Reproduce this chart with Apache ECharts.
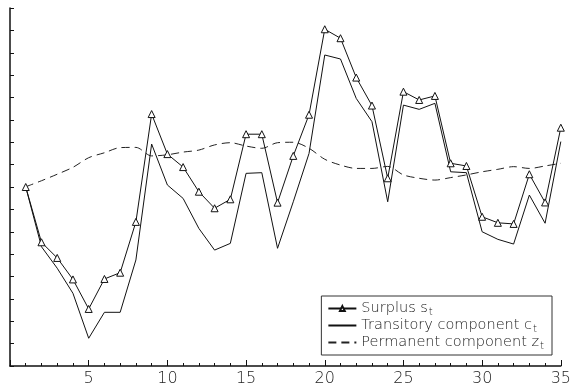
<!DOCTYPE html>
<html>
<head>
<meta charset="utf-8">
<script src="https://cdn.jsdelivr.net/npm/echarts@6/dist/echarts.min.js"></script>
<style>
  html, body { margin: 0; padding: 0; background: #fff; }
  #main { width: 574px; height: 390px; }
</style>
</head>
<body>
<div id="main"></div>
<script>
// periods t = 1..35
var periods = [1, 2, 3, 4, 5, 6, 7, 8, 9, 10, 11, 12, 13, 14, 15, 16, 17, 18,
    19, 20, 21, 22, 23, 24, 25, 26, 27, 28, 29, 30, 31, 32, 33, 34, 35];

// surplus s_t
var surplus = [8.0, 5.53, 4.83, 3.87, 2.55, 3.89, 4.17, 6.44, 11.26, 9.47, 8.89, 7.79,
    7.05, 7.45, 10.36, 10.36, 7.3, 9.39, 11.23, 15.05, 14.65, 12.89, 11.64, 8.39,
    12.26, 11.89, 12.07, 9.06, 8.94, 6.67, 6.4, 6.35, 8.57, 7.31, 10.65];

// transitory component c_t
var transitory = [8.0, 5.33, 4.37, 3.25, 1.24, 2.4, 2.4, 4.74, 9.92, 8.09, 7.49, 6.15,
    5.18, 5.48, 8.61, 8.64, 5.26, 7.34, 9.5, 13.9, 13.72, 11.96, 10.92, 7.34,
    11.66, 11.47, 11.74, 8.68, 8.64, 6.0, 5.66, 5.45, 7.64, 6.38, 10.03];

// permanent component z_t
var permanent = [8.01, 8.28, 8.57, 8.88, 9.31, 9.53, 9.76, 9.77, 9.39, 9.44, 9.56, 9.65,
    9.88, 9.98, 9.83, 9.73, 9.98, 10.0, 9.73, 9.24, 8.98, 8.83, 8.83, 8.92,
    8.54, 8.39, 8.31, 8.42, 8.54, 8.68, 8.79, 8.91, 8.83, 8.94, 9.06];

var xTicks = [5, 10, 15, 20, 25, 30, 35];

function pairs(ys) {
    return periods.map(function (t, i) { return [t, ys[i]]; });
}

var chart = echarts.init(document.getElementById('main'), null, { renderer: 'canvas' });

var fontFam = '"DejaVu Sans", sans-serif';

var option = {
    animation: false,
    backgroundColor: '#fff',
    grid: { left: 10, right: 11, top: 8, bottom: 24 },
    xAxis: {
        type: 'value',
        min: 0,
        max: 35,
        interval: 5,
        axisLine: { show: true, onZero: false, lineStyle: { color: '#111', width: 1.5 } },
        axisTick: { show: true, inside: true, length: 6, lineStyle: { color: '#111' } },
        minorTick: { show: true, splitNumber: 5, length: 3, lineStyle: { color: '#111' } },
        splitLine: { show: false },
        axisLabel: {
            margin: 5,
            color: '#222',
            fontSize: 16,
            fontWeight: 200,
            fontFamily: fontFam,
            formatter: function (v) { return xTicks.indexOf(v) >= 0 ? String(v) : ''; }
        }
    },
    yAxis: {
        type: 'value',
        min: 0,
        max: 16,
        interval: 1,
        axisLine: { show: true, onZero: false, lineStyle: { color: '#111', width: 1.5 } },
        axisTick: { show: true, inside: true, length: 4, lineStyle: { color: '#111' } },
        axisLabel: { show: false },
        splitLine: { show: false }
    },
    legend: {
        orient: 'vertical',
        right: 22,
        bottom: 35,
        padding: [5, 8, 4, 6],
        itemGap: 1,
        itemWidth: 28,
        itemHeight: 6,
        borderColor: '#333',
        borderWidth: 1,
        backgroundColor: '#fff',
        data: [
            { name: 'Surplus' },
            { name: 'Transitory', itemStyle: { opacity: 0 } },
            { name: 'Permanent', itemStyle: { opacity: 0 } }
        ],
        formatter: function (name) {
            if (name === 'Surplus') return '{a|Surplus s}{s|t}';
            if (name === 'Transitory') return '{a|Transitory component c}{s|t}';
            return '{a|Permanent component z}{s|t}';
        },
        textStyle: {
            color: '#222',
            rich: {
                a: { fontSize: 14.5, fontWeight: 200, fontFamily: fontFam, color: '#222', lineHeight: 17 },
                s: { fontSize: 10, fontWeight: 200, fontFamily: fontFam, color: '#222', verticalAlign: 'bottom', padding: [7, 0, 0, 1] }
            }
        }
    },
    series: [{
        name: 'Permanent',
        type: 'line',
        data: pairs(permanent),
        smooth: 0.3,
        showSymbol: false,
        symbol: 'none',
        lineStyle: { color: '#222', width: 1, type: [8, 5] },
        itemStyle: { color: '#222' }
    }, {
        name: 'Transitory',
        type: 'line',
        data: pairs(transitory),
        symbol: 'none',
        lineStyle: { color: '#111', width: 1 },
        itemStyle: { color: '#111' }
    }, {
        name: 'Surplus',
        type: 'line',
        data: pairs(surplus),
        symbol: 'triangle',
        symbolSize: 7,
        lineStyle: { color: '#111', width: 1 },
        itemStyle: { color: '#fff', borderColor: '#111', borderWidth: 1 }
    }]
};

chart.setOption(option);
</script>
</body>
</html>
